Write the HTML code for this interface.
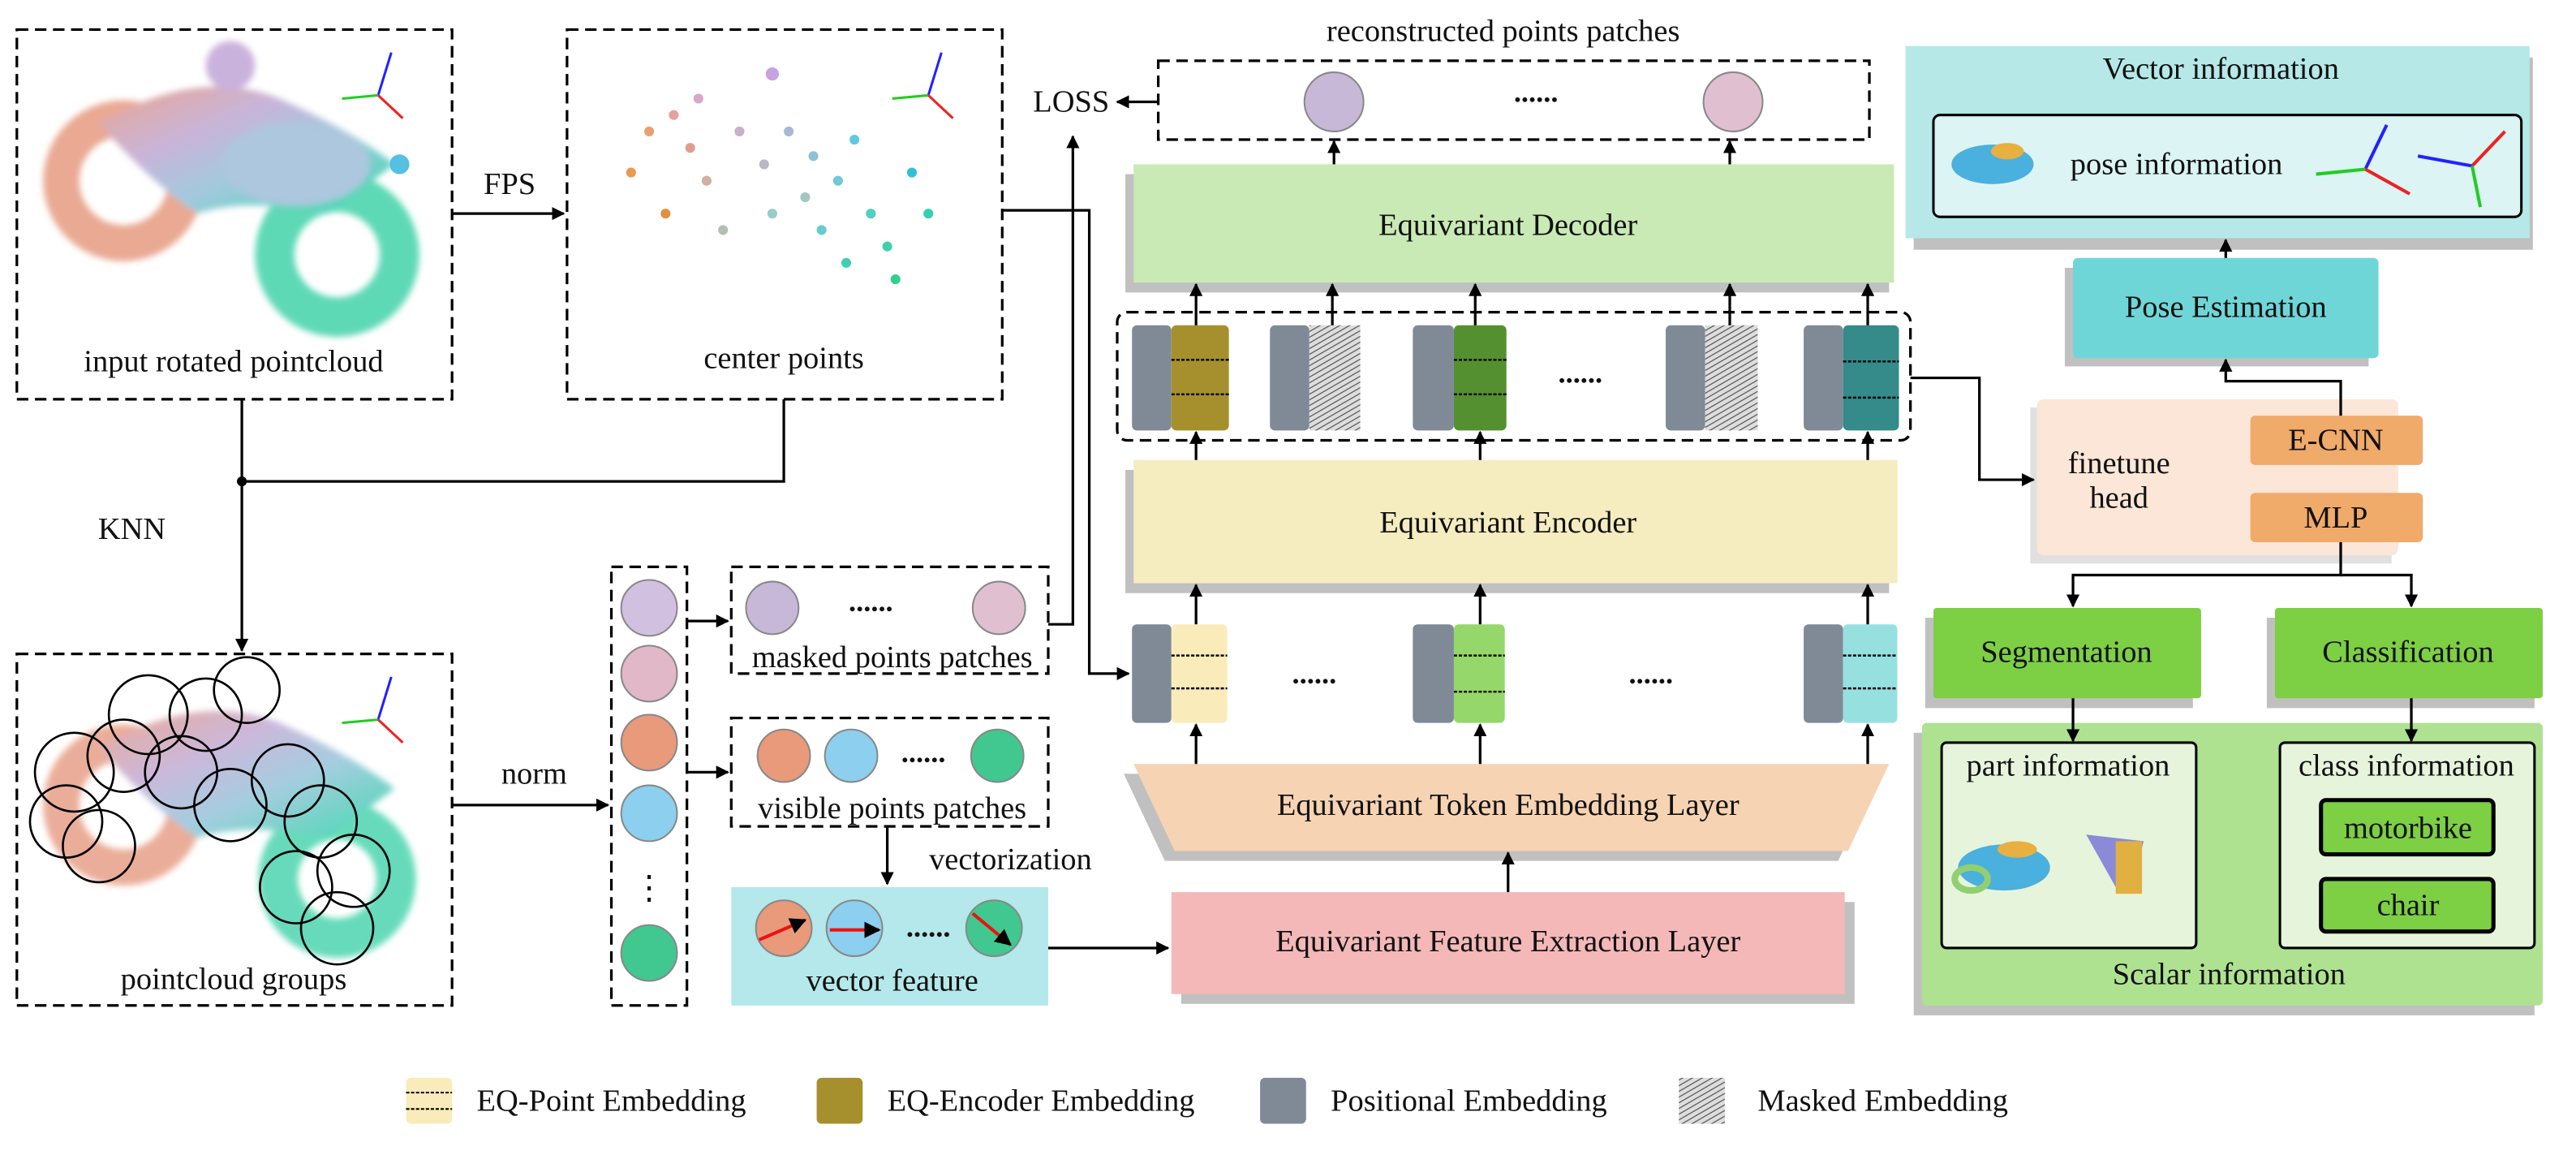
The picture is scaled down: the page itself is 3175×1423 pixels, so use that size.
<!DOCTYPE html>
<html><head><meta charset="utf-8"><style>
html,body{margin:0;padding:0;background:#fff;}
svg{display:block;font-family:"Liberation Serif","Times New Roman",serif;}
svg text{font-family:"Liberation Serif","Times New Roman",serif;fill:#111;}
</style></head><body>
<svg width="3175" height="1423" viewBox="0 0 1568 703" xmlns="http://www.w3.org/2000/svg" font-family="Liberation Serif, serif">
<defs>
<marker id="ar" viewBox="0 0 10 10" refX="9" refY="5" markerWidth="5" markerHeight="5" orient="auto"><path d="M0,0L10,5L0,10z" fill="#000"/></marker>
<pattern id="hatch" width="3" height="3" patternUnits="userSpaceOnUse" patternTransform="rotate(60)"><rect width="3" height="3" fill="#ddd"/><line x1="0" y1="0" x2="0" y2="3" stroke="#555" stroke-width="1.2"/></pattern>
<linearGradient id="moto" x1="0" y1="0" x2="1" y2="1"><stop offset="0" stop-color="#e9a08a"/><stop offset="0.35" stop-color="#c6b1d8"/><stop offset="0.6" stop-color="#9cc8dc"/><stop offset="1" stop-color="#2fd6a8"/></linearGradient>
<filter id="bl"><feGaussianBlur stdDeviation="2"/></filter>
</defs>
<g fill="none" stroke="#000" stroke-width="1.6">
<rect x="10" y="18" width="265" height="225" stroke-dasharray="7,4"/>
<rect x="345" y="18" width="265" height="225" stroke-dasharray="7,4"/>
<rect x="10" y="398" width="265" height="214" stroke-dasharray="7,4"/>
<rect x="372" y="345" width="46" height="267" stroke-dasharray="7,4"/>
<rect x="445" y="345" width="193" height="65" stroke-dasharray="7,4"/>
<rect x="445" y="437" width="193" height="66" stroke-dasharray="7,4"/>
<rect x="705" y="37" width="433" height="48" stroke-dasharray="7,4"/>
<rect x="680" y="190" width="483" height="78" rx="6" stroke-dasharray="7,4"/>
</g>
<g filter="url(#bl)" opacity="0.95">
<circle cx="75" cy="110" r="38" fill="none" stroke="#e8a58e" stroke-width="22"/>
<circle cx="205" cy="155" r="38" fill="none" stroke="#56d7b3" stroke-width="24"/>
<path d="M60,75 Q120,40 170,60 Q215,80 240,100 L200,130 Q150,120 120,130 Q90,110 60,75z" fill="url(#moto)"/>
<circle cx="140" cy="40" r="15" fill="#c7aedb"/>
<ellipse cx="180" cy="100" rx="45" ry="25" fill="#a9c5dd"/>
</g>
<circle cx="243" cy="100" r="6" fill="#55c0e0"/>
<g>
<circle cx="384" cy="105" r="3" fill="#e89a50"/><circle cx="395" cy="80" r="3" fill="#e8a070"/><circle cx="410" cy="70" r="3" fill="#e5a0a0"/><circle cx="420" cy="90" r="3" fill="#dda090"/><circle cx="405" cy="130" r="3" fill="#e09040"/><circle cx="430" cy="110" r="3" fill="#d0b0a0"/><circle cx="450" cy="80" r="3" fill="#c8b0c8"/><circle cx="470" cy="45" r="4" fill="#c9a0e0"/><circle cx="465" cy="100" r="3" fill="#b8b8c8"/><circle cx="480" cy="80" r="3" fill="#a8b8d0"/><circle cx="495" cy="95" r="3" fill="#90c0d8"/><circle cx="490" cy="120" r="3" fill="#a0c8c0"/><circle cx="510" cy="110" r="3" fill="#70c8d8"/><circle cx="520" cy="85" r="3" fill="#60c8e0"/><circle cx="530" cy="130" r="3" fill="#50d0c0"/><circle cx="540" cy="150" r="3" fill="#40d0a8"/><circle cx="515" cy="160" r="3" fill="#40d0b0"/><circle cx="555" cy="105" r="3" fill="#30c0d8"/><circle cx="565" cy="130" r="3" fill="#30d0b0"/><circle cx="545" cy="170" r="3" fill="#30d090"/><circle cx="440" cy="140" r="3" fill="#b0c0b0"/><circle cx="470" cy="130" r="3" fill="#9cc"/><circle cx="425" cy="60" r="3" fill="#d8a8c8"/><circle cx="500" cy="140" r="3" fill="#6cc"/>
</g>
<g filter="url(#bl)" opacity="0.9">
<circle cx="75" cy="490" r="38" fill="none" stroke="#e8a58e" stroke-width="22"/>
<circle cx="205" cy="535" r="36" fill="none" stroke="#56d7b3" stroke-width="24"/>
<path d="M60,455 Q120,420 170,440 Q215,460 240,480 L200,510 Q150,500 120,510 Q90,490 60,455z" fill="url(#moto)"/>
</g>
<g fill="none" stroke="#000" stroke-width="1.3">
<circle cx="90" cy="435" r="24"/><circle cx="125" cy="435" r="22"/><circle cx="150" cy="420" r="20"/><circle cx="45" cy="470" r="24"/><circle cx="75" cy="460" r="22"/><circle cx="40" cy="500" r="22"/><circle cx="60" cy="515" r="22"/><circle cx="110" cy="470" r="22"/><circle cx="140" cy="490" r="22"/><circle cx="175" cy="475" r="22"/><circle cx="195" cy="500" r="22"/><circle cx="180" cy="540" r="22"/><circle cx="215" cy="530" r="22"/><circle cx="205" cy="565" r="22"/>
</g>
<g stroke-width="1.5"><line x1="230" y1="58" x2="238" y2="32" stroke="#22f"/><line x1="230" y1="58" x2="208" y2="60" stroke="#2c2"/><line x1="230" y1="58" x2="245" y2="72" stroke="#e22"/>
<line x1="565" y1="58" x2="573" y2="32" stroke="#22f"/><line x1="565" y1="58" x2="543" y2="60" stroke="#2c2"/><line x1="565" y1="58" x2="580" y2="72" stroke="#e22"/>
<line x1="230" y1="438" x2="238" y2="412" stroke="#22f"/><line x1="230" y1="438" x2="208" y2="440" stroke="#2c2"/><line x1="230" y1="438" x2="245" y2="452" stroke="#e22"/></g>
<g stroke="#888" stroke-width="1">
<circle cx="395" cy="370" r="17" fill="#d2c0e0"/><circle cx="395" cy="410" r="17" fill="#e0b8c8"/><circle cx="395" cy="452" r="17" fill="#e89a7a"/><circle cx="395" cy="495" r="17" fill="#8ccfee"/><circle cx="395" cy="580" r="17" fill="#40c890"/>
<circle cx="470" cy="370" r="16" fill="#c8b8d8"/><circle cx="608" cy="370" r="16" fill="#e0c0d0"/>
<circle cx="477" cy="460" r="16" fill="#e89a7a"/><circle cx="518" cy="460" r="16" fill="#8ccfee"/><circle cx="607" cy="460" r="16" fill="#40c890"/>
<circle cx="812" cy="62" r="18" fill="#c8b8d8"/><circle cx="1055" cy="62" r="18" fill="#e0c0d0"/>
</g>
<rect x="445" y="540" width="193" height="72" fill="#b4e8ea"/>
<g stroke="#888"><circle cx="477" cy="565" r="17" fill="#e89a7a"/><circle cx="520" cy="565" r="17" fill="#8ccfee"/><circle cx="605" cy="565" r="17" fill="#40c890"/></g>
<g stroke="#e11" stroke-width="2" marker-end="url(#ar)"><line x1="462" y1="572" x2="490" y2="560"/><line x1="505" y1="566" x2="535" y2="566"/><line x1="592" y1="556" x2="615" y2="575"/></g>
<text x="395" y="547" font-size="20" text-anchor="middle">⋮</text>
<rect x="719" y="549" width="410" height="62" fill="#c0c0c0"/><rect x="713" y="543" width="410" height="62" fill="#f4b8b8"/>
<path d="M684,471 L1144,471 L1119,524 L709,524z" fill="#c0c0c0"/><path d="M690,465 L1150,465 L1125,518 L715,518z" fill="#f6d3b3"/>
<rect x="685" y="286" width="465" height="75" fill="#c0c0c0"/><rect x="690" y="280" width="465" height="75" fill="#f5edc0"/>
<rect x="685" y="106" width="465" height="72" fill="#c0c0c0"/><rect x="690" y="100" width="463" height="72" fill="#c9eab4"/>
<g><rect x="689" y="380" width="24" height="60" rx="3" fill="#808a96"/><rect x="713" y="380" width="34" height="60" rx="3" fill="#f9ecba"/>
<rect x="860" y="380" width="25" height="60" rx="3" fill="#808a96"/><rect x="885" y="380" width="31" height="60" rx="3" fill="#95d76a"/>
<rect x="1098" y="380" width="24" height="60" rx="3" fill="#808a96"/><rect x="1122" y="380" width="33" height="60" rx="3" fill="#96e0e0"/>
<rect x="689" y="198" width="24" height="64" rx="3" fill="#808a96"/><rect x="713" y="198" width="35" height="64" rx="3" fill="#a6902e"/>
<rect x="773" y="198" width="24" height="64" rx="3" fill="#808a96"/><rect x="797" y="198" width="31" height="64" fill="url(#hatch)"/>
<rect x="860" y="198" width="25" height="64" rx="3" fill="#808a96"/><rect x="885" y="198" width="32" height="64" rx="3" fill="#559030"/>
<rect x="1014" y="198" width="24" height="64" rx="3" fill="#808a96"/><rect x="1038" y="198" width="32" height="64" fill="url(#hatch)"/>
<rect x="1098" y="198" width="24" height="64" rx="3" fill="#808a96"/><rect x="1122" y="198" width="34" height="64" rx="3" fill="#358a8a"/></g>
<g stroke="#000" stroke-width="1.2" stroke-dasharray="2,1">
<line x1="713" y1="399" x2="747" y2="399"/><line x1="713" y1="419" x2="747" y2="419"/><line x1="885" y1="399" x2="916" y2="399"/><line x1="885" y1="421" x2="916" y2="421"/><line x1="1122" y1="399" x2="1155" y2="399"/><line x1="1122" y1="419" x2="1155" y2="419"/>
<line x1="713" y1="219" x2="748" y2="219"/><line x1="713" y1="240" x2="748" y2="240"/><line x1="885" y1="219" x2="917" y2="219"/><line x1="885" y1="240" x2="917" y2="240"/><line x1="1122" y1="220" x2="1156" y2="220"/><line x1="1122" y1="242" x2="1156" y2="242"/></g>
<rect x="1165" y="35" width="377" height="117" fill="#c0c0c0"/><rect x="1160" y="28" width="380" height="117" fill="#b6e8e8"/>
<rect x="1177" y="70" width="358" height="62" rx="4" fill="#dcf4f4" stroke="#000" stroke-width="1.5"/>
<ellipse cx="1213" cy="100" rx="25" ry="12" fill="#4ab0dd"/><ellipse cx="1222" cy="92" rx="10" ry="5" fill="#e8b040"/>
<g stroke-width="2"><line x1="1440" y1="103" x2="1453" y2="76" stroke="#22f"/><line x1="1440" y1="103" x2="1410" y2="106" stroke="#2c2"/><line x1="1440" y1="103" x2="1467" y2="118" stroke="#e22"/>
<line x1="1505" y1="101" x2="1525" y2="80" stroke="#e22"/><line x1="1505" y1="101" x2="1472" y2="95" stroke="#22f"/><line x1="1505" y1="101" x2="1510" y2="126" stroke="#2c2"/></g>
<rect x="1257" y="163" width="185" height="60" fill="#c0c0c0"/><rect x="1262" y="157" width="186" height="61" rx="3" fill="#6fd6d8"/>
<rect x="1236" y="248" width="220" height="95" fill="#e0e0e0"/><rect x="1240" y="243" width="220" height="95" rx="4" fill="#fbe6d7"/>
<rect x="1370" y="253" width="105" height="30" rx="3" fill="#f0aa6a"/><rect x="1370" y="300" width="105" height="30" rx="3" fill="#f0aa6a"/>
<rect x="1172" y="376" width="163" height="55" fill="#c0c0c0"/><rect x="1177" y="370" width="163" height="55" rx="2" fill="#7dcf44"/>
<rect x="1380" y="376" width="163" height="55" fill="#c0c0c0"/><rect x="1385" y="370" width="163" height="55" rx="2" fill="#7dcf44"/>
<rect x="1165" y="446" width="378" height="172" fill="#c0c0c0"/><rect x="1170" y="440" width="378" height="172" rx="3" fill="#aee290"/>
<rect x="1182" y="452" width="155" height="125" rx="3" fill="#e6f4dc" stroke="#000" stroke-width="1.5"/>
<rect x="1388" y="452" width="155" height="125" rx="3" fill="#e6f4dc" stroke="#000" stroke-width="1.5"/>
<rect x="1413" y="487" width="105" height="33" rx="3" fill="#7dcf44" stroke="#000" stroke-width="2.5"/>
<rect x="1413" y="535" width="105" height="32" rx="3" fill="#7dcf44" stroke="#000" stroke-width="2.5"/>
<ellipse cx="1220" cy="528" rx="28" ry="14" fill="#4ab0dd"/><ellipse cx="1228" cy="517" rx="12" ry="5" fill="#e8b040"/><ellipse cx="1200" cy="535" rx="10" ry="7" fill="none" stroke="#90d070" stroke-width="4"/>
<path d="M1270,508 L1305,512 L1298,540 L1288,540z" fill="#8a8ad8"/><rect x="1288" y="512" width="16" height="32" fill="#e0b040"/>
<g fill="none" stroke="#000" stroke-width="1.6">
<line x1="275" y1="130" x2="343" y2="130" marker-end="url(#ar)"/>
<polyline points="147,243 147,396" marker-end="url(#ar)"/>
<polyline points="477,243 477,293 147,293"/>
<line x1="275" y1="490" x2="370" y2="490" marker-end="url(#ar)"/>
<line x1="418" y1="378" x2="443" y2="378" marker-end="url(#ar)"/>
<line x1="418" y1="470" x2="443" y2="470" marker-end="url(#ar)"/>
<line x1="540" y1="503" x2="540" y2="538" marker-end="url(#ar)"/>
<line x1="638" y1="577" x2="711" y2="577" marker-end="url(#ar)"/>
<polyline points="638,380 653,380 653,83" marker-end="url(#ar)"/>
<polyline points="610,128 663,128 663,410 687,410" marker-end="url(#ar)"/>
<line x1="705" y1="62" x2="680" y2="62" marker-end="url(#ar)"/>
<line x1="918" y1="543" x2="918" y2="519" marker-end="url(#ar)"/>
<line x1="728" y1="465" x2="728" y2="441"  marker-end="url(#ar)"/><line x1="901" y1="465" x2="901" y2="441" marker-end="url(#ar)"/><line x1="1137" y1="465" x2="1137" y2="441" marker-end="url(#ar)"/>
<line x1="728" y1="380" x2="728" y2="356" marker-end="url(#ar)"/><line x1="901" y1="380" x2="901" y2="356" marker-end="url(#ar)"/><line x1="1137" y1="380" x2="1137" y2="356" marker-end="url(#ar)"/>
<line x1="728" y1="280" x2="728" y2="263" marker-end="url(#ar)"/><line x1="901" y1="280" x2="901" y2="263" marker-end="url(#ar)"/><line x1="1137" y1="280" x2="1137" y2="263" marker-end="url(#ar)"/>
<line x1="728" y1="198" x2="728" y2="173" marker-end="url(#ar)"/><line x1="811" y1="198" x2="811" y2="173" marker-end="url(#ar)"/><line x1="898" y1="198" x2="898" y2="173" marker-end="url(#ar)"/><line x1="1053" y1="198" x2="1053" y2="173" marker-end="url(#ar)"/><line x1="1137" y1="198" x2="1137" y2="173" marker-end="url(#ar)"/>
<line x1="812" y1="100" x2="812" y2="86" marker-end="url(#ar)"/><line x1="1053" y1="100" x2="1053" y2="86" marker-end="url(#ar)"/>
<polyline points="1163,230 1205,230 1205,292 1238,292" marker-end="url(#ar)"/>
<polyline points="1425,253 1425,232 1355,232 1355,219" marker-end="url(#ar)"/>
<line x1="1355" y1="157" x2="1355" y2="146" marker-end="url(#ar)"/>
<polyline points="1425,330 1425,350 1262,350 1262,369" marker-end="url(#ar)"/>
<polyline points="1425,350 1468,350 1468,369" marker-end="url(#ar)"/>
<line x1="1262" y1="425" x2="1262" y2="451" marker-end="url(#ar)"/>
<line x1="1468" y1="425" x2="1468" y2="451" marker-end="url(#ar)"/>
</g>
<circle cx="147" cy="293" r="3" fill="#000"/>
<rect x="247" y="656" width="28" height="28" rx="3" fill="#f9ecba"/>
<g stroke="#000" stroke-dasharray="2,1"><line x1="247" y1="665" x2="275" y2="665"/><line x1="247" y1="675" x2="275" y2="675"/></g>
<rect x="497" y="656" width="28" height="28" rx="3" fill="#a6902e"/>
<rect x="767" y="656" width="28" height="28" rx="3" fill="#808a96"/>
<rect x="1022" y="656" width="28" height="28" fill="url(#hatch)"/>
<g font-size="19" font-family="Liberation Serif, serif">
<text x="142" y="226" text-anchor="middle">input rotated pointcloud</text>
<text x="477" y="224" text-anchor="middle">center points</text>
<text x="142" y="602" text-anchor="middle">pointcloud groups</text>
<text x="310" y="118" text-anchor="middle">FPS</text>
<text x="80" y="328" text-anchor="middle">KNN</text>
<text x="325" y="477" text-anchor="middle">norm</text>
<text x="543" y="406" text-anchor="middle">masked points patches</text>
<text x="543" y="498" text-anchor="middle">visible points patches</text>
<text x="615" y="529" text-anchor="middle">vectorization</text>
<text x="543" y="603" text-anchor="middle">vector feature</text>
<text x="652" y="68" text-anchor="middle">LOSS</text>
<text x="915" y="25" text-anchor="middle">reconstructed points patches</text>
<text x="918" y="579" text-anchor="middle">Equivariant Feature Extraction Layer</text>
<text x="918" y="496" text-anchor="middle">Equivariant Token Embedding Layer</text>
<text x="918" y="324" text-anchor="middle">Equivariant Encoder</text>
<text x="918" y="143" text-anchor="middle">Equivariant Decoder</text>
<text x="1352" y="48" text-anchor="middle">Vector information</text>
<text x="1325" y="106" text-anchor="middle">pose information</text>
<text x="1355" y="193" text-anchor="middle">Pose Estimation</text>
<text x="1290" y="288" text-anchor="middle">finetune</text>
<text x="1290" y="309" text-anchor="middle">head</text>
<text x="1422" y="274" text-anchor="middle">E-CNN</text>
<text x="1422" y="321" text-anchor="middle">MLP</text>
<text x="1258" y="403" text-anchor="middle">Segmentation</text>
<text x="1466" y="403" text-anchor="middle">Classification</text>
<text x="1259" y="472" text-anchor="middle">part information</text>
<text x="1465" y="472" text-anchor="middle">class information</text>
<text x="1466" y="510" text-anchor="middle">motorbike</text>
<text x="1466" y="557" text-anchor="middle">chair</text>
<text x="1357" y="599" text-anchor="middle">Scalar information</text>
<text x="290" y="676">EQ-Point Embedding</text>
<text x="540" y="676">EQ-Encoder Embedding</text>
<text x="810" y="676">Positional Embedding</text>
<text x="1070" y="676">Masked Embedding</text>
</g>
<g font-size="18" font-weight="bold" text-anchor="middle">
<text x="530" y="372">......</text><text x="562" y="464">......</text><text x="565" y="570">......</text>
<text x="935" y="62">......</text><text x="962" y="233">......</text><text x="800" y="416">......</text><text x="1005" y="416">......</text>
</g>
</svg>
</body></html>
